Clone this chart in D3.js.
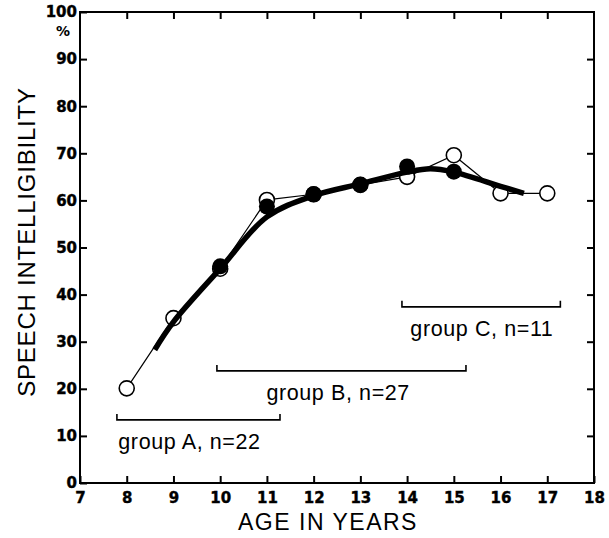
<!DOCTYPE html>
<html>
<head>
<meta charset="utf-8">
<script src="https://cdn.jsdelivr.net/npm/d3@7"></script>
<style>
  html, body { margin: 0; padding: 0; background: #fff; }
  svg { display: block; }
</style>
</head>
<body>
<svg id="chart" width="609" height="538"></svg>
<script>
// ---- data ----
const ages = [8, 9, 10, 11, 12, 13, 14, 15, 16, 17];
const openValues = [20.1, 35, 45.5, 60.1, 61.3, 63.3, 65.0, 69.6, 61.5, 61.5];
const filledAges = [10, 11, 12, 13, 14, 15];
const filledValues = [46, 58.7, 61.3, 63.3, 67.2, 66.1];
// smoothed trend (thick curve)
const trendAges = [8.6, 9, 10, 11, 12, 13, 14, 14.5, 15, 16, 16.5];
const trendValues = [28.3, 34.2, 45.5, 56.5, 61.0, 63.5, 66.0, 66.7, 66.0, 63.0, 61.5];
// group brackets
const groupLabels = ["group A, n=22", "group B, n=27", "group C, n=11"];
const groupStart = [7.79, 9.93, 13.89];
const groupEnd = [11.28, 15.26, 17.28];
const groupLevel = [13.4, 23.8, 37.4];
const groupLabelAt = [7.82, 10.99, 14.07];
// ticks
const xTicks = [7, 8, 9, 10, 11, 12, 13, 14, 15, 16, 17, 18];
const yTicks = [0, 10, 20, 30, 40, 50, 60, 70, 80, 90, 100];
const xTitle = "AGE IN YEARS";
const yTitle = "SPEECH INTELLIGIBILITY";

// ---- layout ----
const svg = d3.select("#chart");
const x = d3.scaleLinear().domain([7, 18]).range([80, 594]);
const y = d3.scaleLinear().domain([0, 100]).range([483, 12]);
const tickLen = 7;
const numFont = "'DejaVu Sans', sans-serif";
const txtFont = "'Liberation Sans', Arial, sans-serif";

// frame
svg.append("rect")
  .attr("x", x(7)).attr("y", y(100))
  .attr("width", x(18) - x(7)).attr("height", y(0) - y(100))
  .attr("stroke", "#000").attr("stroke-width", 2).attr("fill", "none");

// bottom axis (ticks inward)
const axBottom = svg.append("g").attr("transform", `translate(0,${y(0)})`)
  .call(d3.axisBottom(x).tickValues(xTicks).tickSize(-tickLen).tickPadding(tickLen + 5).tickFormat(d3.format("d")));
// top axis ticks inward
const axTop = svg.append("g").attr("transform", `translate(0,${y(100)})`)
  .call(d3.axisTop(x).tickValues(xTicks.filter(d => d > 7 && d < 18)).tickSize(-tickLen).tickFormat(""));
// left axis (ticks inward)
const axLeft = svg.append("g").attr("transform", `translate(${x(7)},0)`)
  .call(d3.axisLeft(y).tickValues(yTicks).tickSize(-tickLen).tickPadding(3).tickFormat(d3.format("d")));
// right axis ticks inward
const axRight = svg.append("g").attr("transform", `translate(${x(18)},0)`)
  .call(d3.axisRight(y).tickValues(yTicks.filter(d => d > 0 && d < 100)).tickSize(-tickLen).tickFormat(""));

[axBottom, axTop, axLeft, axRight].forEach(g => {
  g.select(".domain").remove();
  g.selectAll(".tick line").attr("stroke", "#000").attr("stroke-width", 2);
  g.selectAll(".tick text")
    .attr("fill", "#000")
    .attr("font-family", numFont)
    .attr("font-weight", "bold")
    .attr("font-size", 15)
    .attr("stroke", "#000").attr("stroke-width", 0.4);
});
axBottom.selectAll(".tick text").attr("dy", "0.55em");
axLeft.selectAll(".tick text").attr("x", -3);

// % sign
svg.append("text")
  .attr("x", x(7) - 17).attr("y", y(100) + 24)
  .attr("text-anchor", "middle")
  .attr("font-family", numFont).attr("font-weight", "bold").attr("font-size", 14)
  .text("%");

// axis titles
svg.append("text")
  .attr("x", 328).attr("y", 530)
  .attr("text-anchor", "middle")
  .attr("font-family", txtFont).attr("font-size", 23)
  .attr("letter-spacing", 1.5)
  .text(xTitle);
svg.append("text")
  .attr("transform", `translate(35,242) rotate(-90)`)
  .attr("text-anchor", "middle")
  .attr("font-family", txtFont).attr("font-size", 24)
  .attr("letter-spacing", 0.8)
  .text(yTitle);

// group brackets
const gGroups = svg.append("g");
groupLabels.forEach((lab, i) => {
  const x0 = x(groupStart[i]), x1 = x(groupEnd[i]), yy = y(groupLevel[i]);
  gGroups.append("path")
    .attr("d", `M${x0},${yy - 6}V${yy}H${x1}V${yy - 6}`)
    .attr("fill", "none").attr("stroke", "#000").attr("stroke-width", 1.6);
  gGroups.append("text")
    .attr("x", x(groupLabelAt[i])).attr("y", yy + 29)
    .attr("font-family", txtFont).attr("font-size", 21.5)
    .attr("letter-spacing", 0.6)
    .text(lab);
});

// thin line through open circles
const openData = ages.map((a, i) => [a, openValues[i]]);
svg.append("path")
  .datum(openData)
  .attr("d", d3.line().x(d => x(d[0])).y(d => y(d[1])))
  .attr("fill", "none").attr("stroke", "#000").attr("stroke-width", 1.2);

// open circles
svg.append("g").selectAll("circle")
  .data(openData).join("circle")
  .attr("cx", d => x(d[0])).attr("cy", d => y(d[1])).attr("r", 7.5)
  .attr("fill", "#fff").attr("stroke", "#000").attr("stroke-width", 1.6);

// thick smoothed curve
const trendData = trendAges.map((a, i) => [a, trendValues[i]]);
svg.append("path")
  .datum(trendData)
  .attr("d", d3.line().x(d => x(d[0])).y(d => y(d[1])).curve(d3.curveCatmullRom.alpha(0.5)))
  .attr("fill", "none").attr("stroke", "#000").attr("stroke-width", 5.5)
  .attr("stroke-linecap", "butt");

// filled circles
svg.append("g").selectAll("circle")
  .data(filledAges.map((a, i) => [a, filledValues[i]])).join("circle")
  .attr("cx", d => x(d[0])).attr("cy", d => y(d[1])).attr("r", 8)
  .attr("fill", "#000");
</script>
</body>
</html>
